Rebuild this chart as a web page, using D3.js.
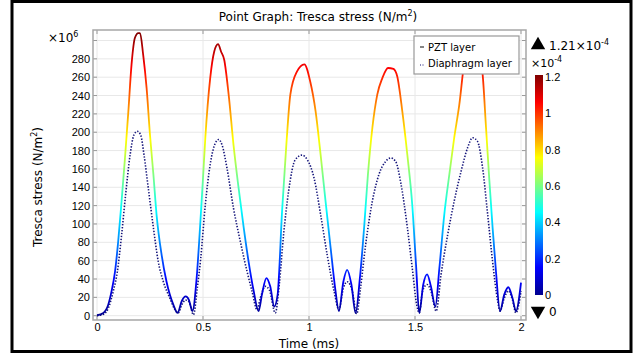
<!DOCTYPE html>
<html>
<head>
<meta charset="utf-8">
<script src="https://cdn.jsdelivr.net/npm/d3@7"></script>
<style>
  body { margin: 0; background: #fff; }
  svg { font-family: 'DejaVu Sans', sans-serif; }
  .tick text { font-size: 11px; fill: #000; }
</style>
</head>
<body>
<svg id="chart" width="643" height="363"></svg>
<script>
// PZT layer (solid, coloured by value)
const pztTime = [0, 0.03, 0.053, 0.069, 0.085, 0.10, 0.116, 0.132, 0.148, 0.163, 0.179, 0.195, 0.203, 0.218, 0.234, 0.25, 0.266, 0.281, 0.305, 0.328, 0.36, 0.38, 0.40, 0.418, 0.434, 0.45, 0.47, 0.486, 0.501, 0.511, 0.534, 0.553, 0.571, 0.585, 0.60, 0.621, 0.644, 0.668, 0.692, 0.715, 0.739, 0.762, 0.778, 0.799, 0.817, 0.836, 0.852, 0.873, 0.893, 0.912, 0.943, 0.978, 1.006, 1.031, 1.055, 1.078, 1.102, 1.125, 1.141, 1.162, 1.18, 1.2, 1.22, 1.24, 1.26, 1.278, 1.299, 1.322, 1.346, 1.373, 1.398, 1.416, 1.44, 1.464, 1.487, 1.505, 1.52, 1.539, 1.557, 1.575, 1.596, 1.615, 1.638, 1.662, 1.685, 1.709, 1.733, 1.755, 1.775, 1.797, 1.819, 1.835, 1.85, 1.866, 1.882, 1.901, 1.921, 1.94, 1.96, 1.976, 2.0];
const pztStress = [0.5, 3, 12, 27, 48, 81, 125, 172, 223, 274, 303, 308, 308, 284, 248, 197, 154, 110, 66, 37, 12, 3, 16, 21, 17, 5, 41, 96, 154, 194, 259, 288, 296, 288, 279, 241, 186, 139, 96, 59, 27, 5, 23, 41, 32, 10, 23, 114, 186, 241, 266, 274, 255, 223, 175, 125, 74, 27, 5, 37, 50, 34, 3, 41, 96, 154, 205, 241, 259, 270, 269, 261, 223, 175, 121, 55, 3, 34, 45, 32, 10, 52, 110, 154, 194, 230, 277, 296, 299, 290, 263, 205, 150, 96, 48, 5, 23, 31, 19, 5, 36];

// Diaphragm layer (dotted)
const diaTime = [0, 0.03, 0.053, 0.077, 0.096, 0.116, 0.135, 0.156, 0.174, 0.19, 0.206, 0.222, 0.242, 0.266, 0.289, 0.313, 0.344, 0.368, 0.383, 0.40, 0.418, 0.434, 0.455, 0.473, 0.489, 0.511, 0.534, 0.558, 0.574, 0.59, 0.613, 0.644, 0.676, 0.708, 0.731, 0.755, 0.77, 0.794, 0.813, 0.841, 0.861, 0.88, 0.904, 0.935, 0.967, 0.992, 1.024, 1.055, 1.086, 1.118, 1.141, 1.162, 1.18, 1.204, 1.225, 1.243, 1.267, 1.299, 1.33, 1.361, 1.385, 1.409, 1.432, 1.464, 1.487, 1.508, 1.52, 1.536, 1.557, 1.575, 1.6, 1.623, 1.654, 1.685, 1.717, 1.748, 1.772, 1.795, 1.819, 1.843, 1.866, 1.89, 1.901, 1.921, 1.94, 1.96, 1.976, 2.0];
const diaStress = [0, 1.5, 8, 27, 48, 88, 132, 175, 197, 201, 197, 175, 139, 96, 59, 37, 19, 6.5, 3, 12, 17, 15, 1, 30, 62, 121, 165, 188, 192, 186, 161, 117, 81, 48, 27, 6.5, 19, 32, 28, 3, 37, 88, 136, 170, 175, 170, 150, 110, 66, 27, 6.5, 30, 37, 27, 2, 30, 77, 125, 154, 168, 172, 168, 146, 96, 52, 12, 3, 27, 34, 27, 5, 45, 88, 125, 157, 183, 194, 190, 161, 110, 59, 16, 5, 19, 27, 17, 3, 27];

const xTicks = [0, 0.5, 1, 1.5, 2];
const yTicks = d3.range(0, 281, 20);
const yGrid = d3.range(0, 301, 20);
const cbTicks = [0, 0.2, 0.4, 0.6, 0.8, 1, 1.2];
const cbMax = 1.21;      // colour range max (x10^-4)
const stressAtMax = 308; // stress that maps to top of the colour range
const jet = ['#00008f', '#0000ff', '#00ffff', '#ffff00', '#ff0000', '#800000'];
const jetPos = [0, 0.125, 0.375, 0.625, 0.875, 1];

const svg = d3.select('#chart');
const plot = { left: 93, right: 526, top: 30, bottom: 320 };

const x = d3.scaleLinear().domain([0, 2]).range([97, 521]);
const y = d3.scaleLinear().domain([0, 300]).range([315.7, 40.5]);
const cb = d3.scaleLinear().domain([0, cbMax]).range([295, 75]);

const defs = svg.append('defs');
defs.append('clipPath').attr('id', 'clip')
  .append('rect')
  .attr('x', plot.left).attr('y', plot.top)
  .attr('width', plot.right - plot.left).attr('height', plot.bottom - plot.top);

function addGradient(id, y1, y2) {
  const g = defs.append('linearGradient').attr('id', id)
    .attr('gradientUnits', 'userSpaceOnUse')
    .attr('x1', 0).attr('x2', 0).attr('y1', y1).attr('y2', y2);
  g.selectAll('stop').data(jet).join('stop')
    .attr('offset', (d, i) => jetPos[i])
    .attr('stop-color', d => d);
}
addGradient('lineGrad', y(0), y(stressAtMax));
addGradient('cbGrad', cb(0), cb(cbMax));

// outer frame
svg.append('rect')
  .attr('x', 12).attr('y', 1.5).attr('width', 619).attr('height', 350)
  .attr('fill', 'none').attr('stroke', '#000').attr('stroke-width', 3);

// grid
const grid = svg.append('g');
grid.selectAll('line.gy').data(yGrid).join('line')
  .attr('x1', plot.left).attr('x2', plot.right)
  .attr('y1', d => y(d)).attr('y2', d => y(d))
  .attr('stroke', '#e8e8e8');
grid.selectAll('line.gx').data(xTicks).join('line')
  .attr('y1', plot.top).attr('y2', plot.bottom)
  .attr('x1', d => x(d)).attr('x2', d => x(d))
  .attr('stroke', '#e8e8e8');

// axes
const yAxis = svg.append('g')
  .attr('transform', `translate(${plot.left},0)`)
  .call(d3.axisLeft(y).tickValues(yTicks).tickSize(0).tickPadding(3));
yAxis.select('.domain').remove();

const xAxis = svg.append('g')
  .attr('transform', `translate(0,${plot.bottom})`)
  .call(d3.axisBottom(x).tickValues(xTicks).tickSize(0).tickPadding(3)
    .tickFormat(d3.format('')));
xAxis.select('.domain').remove();

// inner tick marks on all four sides
const tk = svg.append('g').attr('stroke', '#999');
tk.selectAll('line.l').data(yGrid).join('line')
  .attr('x1', plot.left).attr('x2', plot.left + 4)
  .attr('y1', d => y(d)).attr('y2', d => y(d));
tk.selectAll('line.r').data(yGrid).join('line')
  .attr('x1', plot.right - 4).attr('x2', plot.right)
  .attr('y1', d => y(d)).attr('y2', d => y(d));
tk.selectAll('line.b').data(xTicks).join('line')
  .attr('x1', d => x(d)).attr('x2', d => x(d))
  .attr('y1', plot.bottom - 4).attr('y2', plot.bottom);
tk.selectAll('line.t').data(xTicks).join('line')
  .attr('x1', d => x(d)).attr('x2', d => x(d))
  .attr('y1', plot.top).attr('y2', plot.top + 4);

// series
const series = svg.append('g').attr('clip-path', 'url(#clip)');
const line = d3.line().x(d => x(d[0])).y(d => y(d[1])).curve(d3.curveMonotoneX);

series.append('path')
  .datum(d3.zip(diaTime, diaStress))
  .attr('d', line)
  .attr('fill', 'none')
  .attr('stroke', '#14147a')
  .attr('stroke-width', 1.6)
  .attr('stroke-dasharray', '1.4,1.6');

series.append('path')
  .datum(d3.zip(pztTime, pztStress))
  .attr('d', line)
  .attr('fill', 'none')
  .attr('stroke', 'url(#lineGrad)')
  .attr('stroke-width', 1.8)
  .attr('stroke-linejoin', 'round');

// plot frame
svg.append('rect')
  .attr('x', plot.left).attr('y', plot.top)
  .attr('width', plot.right - plot.left).attr('height', plot.bottom - plot.top)
  .attr('fill', 'none').attr('stroke', '#a6a6a6').attr('stroke-width', 1.5);

// exponent label
const exp = svg.append('text').attr('x', 48).attr('y', 42).attr('font-size', 12);
exp.append('tspan').text('×10');
exp.append('tspan').attr('font-size', 8).attr('dy', -5).text('6');

// title
const title = svg.append('text').attr('x', 318).attr('y', 21)
  .attr('text-anchor', 'middle').attr('font-size', 12);
title.append('tspan').text('Point Graph: Tresca stress (N/m');
title.append('tspan').attr('font-size', 8).attr('dy', -5).text('2');
title.append('tspan').attr('dy', 5).text(')');

// axis titles
svg.append('text').attr('x', 309).attr('y', 348)
  .attr('text-anchor', 'middle').attr('font-size', 12).text('Time (ms)');
const yl = svg.append('text')
  .attr('transform', 'translate(42,187) rotate(-90)')
  .attr('text-anchor', 'middle').attr('font-size', 12);
yl.append('tspan').text('Tresca stress (N/m');
yl.append('tspan').attr('font-size', 8).attr('dy', -5).text('2');
yl.append('tspan').attr('dy', 5).text(')');

// legend
const lg = svg.append('g').attr('transform', 'translate(414,36)');
lg.append('rect').attr('width', 105).attr('height', 38)
  .attr('fill', '#fff').attr('stroke', '#999').attr('stroke-width', 1.2);
lg.append('line').attr('x1', 6).attr('x2', 10).attr('y1', 11).attr('y2', 11)
  .attr('stroke', '#333').attr('stroke-width', 1.2);
lg.append('text').attr('x', 14).attr('y', 15).attr('font-size', 10).text('PZT layer');
lg.append('line').attr('x1', 6).attr('x2', 11).attr('y1', 29).attr('y2', 29)
  .attr('stroke', '#14147a').attr('stroke-width', 1.2).attr('stroke-dasharray', '1,1.5');
lg.append('text').attr('x', 14).attr('y', 31).attr('font-size', 10).text('Diaphragm layer');

// colour bar
svg.append('rect')
  .attr('x', 535).attr('y', cb(cbMax)).attr('width', 8).attr('height', cb(0) - cb(cbMax))
  .attr('fill', 'url(#cbGrad)');
const cbAxis = svg.append('g')
  .attr('transform', 'translate(543,0)')
  .call(d3.axisRight(cb).tickValues(cbTicks).tickSize(0).tickPadding(2)
    .tickFormat(d3.format('')));
cbAxis.select('.domain').remove();

const cbExp = svg.append('text').attr('x', 531).attr('y', 67).attr('font-size', 11);
cbExp.append('tspan').text('×10');
cbExp.append('tspan').attr('font-size', 8).attr('dy', -5).text('-4');

svg.append('path').attr('d', d3.symbol(d3.symbolTriangle, 90)())
  .attr('transform', 'translate(538,45)').attr('fill', '#000');
const maxLbl = svg.append('text').attr('x', 549).attr('y', 50).attr('font-size', 12);
maxLbl.append('tspan').text('1.21×10');
maxLbl.append('tspan').attr('font-size', 8).attr('dy', -5).text('-4');

svg.append('path').attr('d', d3.symbol(d3.symbolTriangle, 90)())
  .attr('transform', 'translate(538,311) rotate(180)').attr('fill', '#000');
svg.append('text').attr('x', 549).attr('y', 316).attr('font-size', 12).text('0');
</script>
</body>
</html>
